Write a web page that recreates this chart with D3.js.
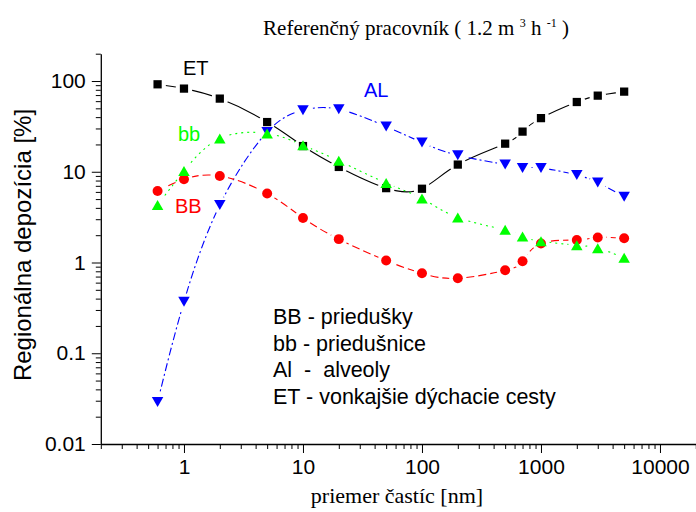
<!DOCTYPE html>
<html>
<head>
<meta charset="utf-8">
<script src="https://cdn.jsdelivr.net/npm/d3@7"></script>
<style>
  html, body { margin: 0; padding: 0; background: #fff; }
  svg text { white-space: pre; }
</style>
</head>
<body>
<div id="chart"></div>
<script>
// particle diameters [nm]
const sizes = [0.6, 1, 2, 5, 10, 20, 50, 100, 200, 500, 700, 1000, 2000, 3000, 5000];
// regional deposition [%]
const etValues = [92, 82.5, 64, 35.3, 19.2, 11.3, 6.6, 6.5, 12, 20.4, 27.7, 39, 58.7, 69, 76.4];
const alValues = [0.029, 0.37, 4.3, 27.4, 47.6, 48.8, 31.5, 21, 15.2, 12, 11, 11, 9.2, 7.6, 5.3];
const bbValues = [6.15, 8.27, 9.0, 5.75, 3.1, 1.81, 1.05, 0.76, 0.67, 0.82, 1.03, 1.62, 1.77, 1.89, 1.85];
const bbSmallValues = [4.3, 10.2, 23.2, 26.4, 19.6, 13.2, 7.5, 5.07, 3.13, 2.29, 1.93, 1.72, 1.55, 1.44, 1.13];

const xTicks = [1, 10, 100, 1000, 10000];
const yTicks = [0.01, 0.1, 1, 10, 100];
const legendLines = ['BB - priedušky', 'bb - priedušnice', 'Al  -  alveoly', 'ET - vonkajšie dýchacie cesty'];

const width = 696, height = 512;
const sans = '"Liberation Sans", Arial, sans-serif';
const serif = '"Liberation Serif", "Times New Roman", serif';

const x = d3.scaleLog().domain([0.2, 20000]).range([100.8, 695.8]);
const y = d3.scaleLog().domain([0.01, 200]).range([444, 53.7]);

const svg = d3.select('#chart').append('svg')
    .attr('width', width).attr('height', height)
    .attr('viewBox', `0 0 ${width} ${height}`);

// minor ticks (log sub-divisions)
const minorX = [];
for (let e = -1; e <= 4; e++) for (let m = 2; m <= 9; m++) {
    const v = m * Math.pow(10, e);
    if (v >= 0.2 && v <= 20000) minorX.push(v);
}
const minorY = [];
for (let e = -2; e <= 2; e++) for (let m = 2; m <= 9; m++) {
    const v = m * Math.pow(10, e);
    if (v <= 200) minorY.push(+v.toPrecision(3));
}

const fmt = d => String(d);

const xAxis = svg.append('g').attr('transform', `translate(0,${y(0.01)})`);
xAxis.append('g')
    .call(d3.axisBottom(x).tickValues(minorX).tickSize(5).tickFormat(''))
    .call(g => g.select('.domain').remove());
xAxis.append('g')
    .call(d3.axisBottom(x).tickValues(xTicks).tickSize(9).tickSizeOuter(0).tickPadding(6).tickFormat(fmt));

const yAxis = svg.append('g').attr('transform', `translate(${x(0.2)},0)`);
yAxis.append('g')
    .call(d3.axisLeft(y).tickValues(minorY).tickSize(5).tickFormat(''))
    .call(g => g.select('.domain').remove());
yAxis.append('g')
    .call(d3.axisLeft(y).tickValues(yTicks).tickSize(9).tickSizeOuter(0).tickPadding(6).tickFormat(fmt));

svg.selectAll('.domain').attr('stroke', '#000').attr('stroke-width', 1.3);
svg.selectAll('.tick line').attr('stroke', '#000').attr('stroke-width', 1);
svg.selectAll('.tick text')
    .attr('font-family', sans).attr('font-size', 21).attr('fill', '#000');

// series
const series = [
    {name: 'ET', values: etValues, color: '#000000', dash: null, marker: 'square'},
    {name: 'AL', values: alValues, color: '#0000ff', dash: '8,3,2,3', marker: 'down'},
    {name: 'BB', values: bbValues, color: '#ff0000', dash: '8,4', marker: 'circle'},
    {name: 'bb', values: bbSmallValues, color: '#00ff00', dash: '2,4', marker: 'up'},
];

const line = d3.line()
    .x(d => x(d[0]))
    .y(d => y(d[1]))
    .curve(d3.curveNatural);

const markerPath = type => {
    if (type === 'square') return d3.symbol(d3.symbolSquare, 68)();
    if (type === 'circle') return d3.symbol(d3.symbolCircle, 78)();
    const a = 11.5, h = 10;
    if (type === 'up') return `M0,${-h / 2}L${a / 2},${h / 2}L${-a / 2},${h / 2}Z`;
    return `M0,${h / 2}L${a / 2},${-h / 2}L${-a / 2},${-h / 2}Z`;
};

const defs = svg.append('defs');

series.forEach((s, i) => {
    const pts = sizes.map((d, j) => [d, s.values[j]]);
    // gap in the line around its own symbols
    const mask = defs.append('mask').attr('id', `gap${i}`)
        .attr('maskUnits', 'userSpaceOnUse')
        .attr('x', 0).attr('y', 0).attr('width', width).attr('height', height);
    mask.append('rect').attr('width', width).attr('height', height).attr('fill', '#fff');
    mask.selectAll('circle').data(pts).join('circle')
        .attr('cx', d => x(d[0])).attr('cy', d => y(d[1])).attr('r', 8.5).attr('fill', '#000');

    svg.append('path')
        .attr('d', line(pts))
        .attr('fill', 'none')
        .attr('stroke', s.color)
        .attr('stroke-width', 1.1)
        .attr('stroke-dasharray', s.dash)
        .attr('mask', `url(#gap${i})`);

    svg.append('g').selectAll('path').data(pts).join('path')
        .attr('transform', d => `translate(${x(d[0])},${y(d[1])})`)
        .attr('d', markerPath(s.marker))
        .attr('fill', s.color);
});

// series labels
const labels = [
    {text: 'ET', color: '#000000', x: 183, y: 75},
    {text: 'AL', color: '#0000ff', x: 364, y: 97},
    {text: 'bb', color: '#00ff00', x: 178, y: 141},
    {text: 'BB', color: '#ff0000', x: 175, y: 213},
];
svg.append('g').selectAll('text').data(labels).join('text')
    .attr('x', d => d.x).attr('y', d => d.y)
    .attr('fill', d => d.color)
    .attr('font-family', sans).attr('font-size', 20)
    .text(d => d.text);

// legend text
svg.append('g').selectAll('text').data(legendLines).join('text')
    .attr('x', 273)
    .attr('y', (d, i) => 324 + i * 26.5)
    .attr('font-family', sans).attr('font-size', 21.5)
    .attr('fill', '#000')
    .text(d => d);

// title
const title = svg.append('text')
    .attr('x', 416).attr('y', 35)
    .attr('text-anchor', 'middle')
    .attr('font-family', serif).attr('font-size', 21).attr('fill', '#000');
title.append('tspan').text('Referenčný pracovník ( 1.2 m ');
title.append('tspan').attr('font-size', 12).attr('dy', -8).text('3');
title.append('tspan').attr('dy', 8).text(' h ');
title.append('tspan').attr('font-size', 12).attr('dy', -8).text('-1');
title.append('tspan').attr('dy', 8).text(' )');

// axis titles
svg.append('text')
    .attr('x', 397).attr('y', 503)
    .attr('text-anchor', 'middle')
    .attr('font-family', serif).attr('font-size', 22).attr('fill', '#000')
    .text('priemer častíc [nm]');

svg.append('text')
    .attr('transform', 'translate(31,245) rotate(-90)')
    .attr('text-anchor', 'middle')
    .attr('font-family', sans).attr('font-size', 24).attr('fill', '#000')
    .text('Regionálna depozícia [%]');
</script>
</body>
</html>
